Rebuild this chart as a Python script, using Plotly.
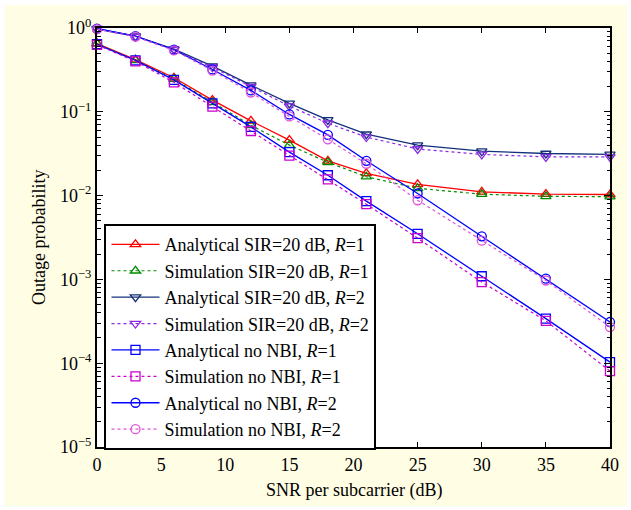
import plotly.graph_objects as go

snr = [0, 3, 6, 9, 12, 15, 18, 21, 25, 30, 35, 40]

ana_sir_r1 = [0.65, 0.42, 0.255, 0.138, 0.078, 0.046, 0.026, 0.0184, 0.0136, 0.0111, 0.0104, 0.0103]
sim_sir_r1 = [0.65, 0.41, 0.245, 0.13, 0.069, 0.040, 0.025, 0.0168, 0.0122, 0.0104, 0.0098, 0.0097]
ana_sir_r2 = [0.98, 0.80, 0.56, 0.35, 0.208, 0.126, 0.080, 0.054, 0.040, 0.034, 0.0318, 0.031]
sim_sir_r2 = [0.97, 0.79, 0.55, 0.34, 0.20, 0.117, 0.073, 0.050, 0.036, 0.031, 0.029, 0.029]
ana_nonbi_r1 = [0.64, 0.41, 0.24, 0.126, 0.066, 0.033, 0.0175, 0.0086, 0.0035, 0.00109, 0.00034, 0.000103]
sim_nonbi_r1 = [0.63, 0.40, 0.225, 0.115, 0.059, 0.030, 0.0156, 0.0079, 0.0031, 0.00093, 0.00032, 0.0000805]
ana_nonbi_r2 = [0.98, 0.80, 0.55, 0.32, 0.18, 0.093, 0.053, 0.026, 0.0106, 0.00327, 0.00102, 0.00031]
sim_nonbi_r2 = [0.97, 0.79, 0.54, 0.31, 0.17, 0.088, 0.047, 0.024, 0.0088, 0.0029, 0.00097, 0.00027]

series = [
    ("Analytical SIR=20 dB, <i>R</i>=1", ana_sir_r1, "#FF0000", "solid", "triangle-up-open"),
    ("Simulation SIR=20 dB, <i>R</i>=1", sim_sir_r1, "#008A00", "dot", "triangle-up-open"),
    ("Analytical SIR=20 dB, <i>R</i>=2", ana_sir_r2, "#14307A", "solid", "triangle-down-open"),
    ("Simulation SIR=20 dB, <i>R</i>=2", sim_sir_r2, "#8A2BE2", "dot", "triangle-down-open"),
    ("Analytical no NBI, <i>R</i>=1", ana_nonbi_r1, "#0000FF", "solid", "square-open"),
    ("Simulation no NBI, <i>R</i>=1", sim_nonbi_r1, "#CC00CC", "dot", "square-open"),
    ("Analytical no NBI, <i>R</i>=2", ana_nonbi_r2, "#0000FF", "solid", "circle-open"),
    ("Simulation no NBI, <i>R</i>=2", sim_nonbi_r2, "#E055D8", "dot", "circle-open"),
]

x_ticks = [0, 5, 10, 15, 20, 25, 30, 35, 40]
y_ticks = [1e-5, 1e-4, 1e-3, 1e-2, 1e-1, 1]
y_ticktext = ["10<sup>−5</sup>", "10<sup>−4</sup>", "10<sup>−3</sup>", "10<sup>−2</sup>", "10<sup>−1</sup>", "10<sup>0</sup>"]
y_minor = [m * 10 ** e for e in range(-5, 0) for m in range(2, 10)]

FONT = "Liberation Serif"

fig = go.Figure()
for name, vals, color, dash, sym in series:
    fig.add_trace(go.Scatter(
        x=snr, y=vals, name=name, mode="lines+markers",
        line=dict(color=color, width=1.3 if dash == "solid" else 1.2, dash=dash),
        marker=dict(symbol=sym, size=9, color=color, line=dict(width=1.3, color=color)),
        cliponaxis=False,
    ))

L, R, T, B = 96.5, 610, 28, 446.7
W, H = 631, 510
pw, ph = R - L, B - T

def px_to_paper_x(px):
    return (px - L) / pw

def px_to_paper_y(py):
    return (B - py) / ph

fig.update_layout(
    width=W, height=H,
    margin=dict(l=L, r=W - R, t=T, b=H - B, pad=0),
    paper_bgcolor="white",
    plot_bgcolor="white",
    font=dict(family=FONT, size=18, color="black"),
    showlegend=True,
    legend=dict(
        x=px_to_paper_x(104), y=px_to_paper_y(224), xanchor="left", yanchor="top",
        bgcolor="white", bordercolor="black", borderwidth=2,
        font=dict(family=FONT, size=18, color="black"),
        tracegroupgap=0, itemwidth=48,
    ),
    shapes=[
        dict(type="rect", xref="paper", yref="paper", layer="below",
             x0=px_to_paper_x(4), x1=px_to_paper_x(627),
             y0=px_to_paper_y(506), y1=px_to_paper_y(5),
             fillcolor="#FFFDE4", line=dict(width=0)),
        dict(type="rect", xref="paper", yref="paper", layer="below",
             x0=0, x1=1, y0=0, y1=1,
             fillcolor="white", line=dict(width=0)),
    ],
    annotations=[
        dict(text="SNR per subcarrier (dB)", xref="paper", yref="paper",
             x=0.5, y=px_to_paper_y(490), xanchor="center", yanchor="middle",
             showarrow=False, font=dict(family=FONT, size=18)),
        dict(text="Outage probability", xref="paper", yref="paper",
             x=px_to_paper_x(38), y=0.5, xanchor="center", yanchor="middle",
             textangle=-90, showarrow=False, font=dict(family=FONT, size=18)),
    ],
)

fig.update_xaxes(
    range=[0, 40], tickmode="array", tickvals=x_ticks,
    ticks="inside", ticklen=5, tickwidth=1, tickcolor="black",
    showline=True, linewidth=2, linecolor="black", mirror="ticks",
    showgrid=False, zeroline=False,
    tickfont=dict(family=FONT, size=18),
)
fig.update_yaxes(
    type="log", range=[-5, 0], tickmode="array", tickvals=y_ticks, ticktext=y_ticktext,
    ticks="inside", ticklen=6, tickwidth=1, tickcolor="black",
    showline=True, linewidth=2, linecolor="black", mirror="ticks",
    showgrid=False, zeroline=False,
    minor=dict(tickmode="array", tickvals=y_minor, ticks="inside", ticklen=3.5,
               tickwidth=1, tickcolor="black", showgrid=False),
    tickfont=dict(family=FONT, size=18),
)

fig.write_html("out.html")
